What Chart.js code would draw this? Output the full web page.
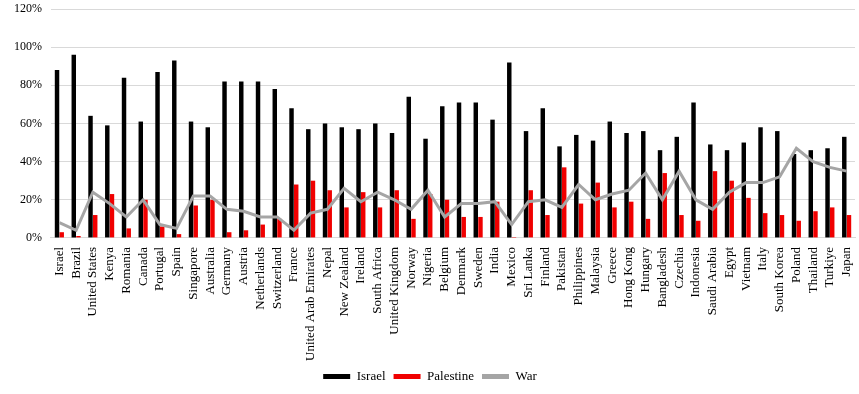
<!DOCTYPE html>
<html>
<head>
<meta charset="utf-8">
<script src="https://cdn.jsdelivr.net/npm/chart.js@4"></script>
<style>
  html, body { margin: 0; padding: 0; background: #fff; }
  #wrap { width: 859px; height: 394px; }
</style>
</head>
<body>
<div id="wrap"><canvas id="chart" width="859" height="394"></canvas></div>
<script>
const countries = ['Israel', 'Brazil', 'United States', 'Kenya', 'Romania', 'Canada', 'Portugal', 'Spain',
  'Singapore', 'Australia', 'Germany', 'Austria', 'Netherlands', 'Switzerland', 'France',
  'United Arab Emirates', 'Nepal', 'New Zealand', 'Ireland', 'South Africa', 'United Kingdom',
  'Norway', 'Nigeria', 'Belgium', 'Denmark', 'Sweden', 'India', 'Mexico', 'Sri Lanka', 'Finland',
  'Pakistan', 'Philippines', 'Malaysia', 'Greece', 'Hong Kong', 'Hungary', 'Bangladesh', 'Czechia',
  'Indonesia', 'Saudi Arabia', 'Egypt', 'Vietnam', 'Italy', 'South Korea', 'Poland', 'Thailand',
  'Turkiye', 'Japan'];
const israel = [88, 96, 64, 59, 84, 61, 87, 93, 61, 58, 82, 82, 82, 78, 68, 57, 60, 58, 57, 60,
  55, 74, 52, 69, 71, 71, 62, 92, 56, 68, 48, 54, 51, 61, 55, 56, 46, 53, 71, 49,
  46, 50, 58, 56, 44, 46, 47, 53];
const palestine = [3, 1, 12, 23, 5, 20, 6, 2, 17, 20, 3, 4, 7, 10, 28, 30, 25, 16, 24, 16,
  25, 10, 23, 20, 11, 11, 19, 0.5, 25, 12, 37, 18, 29, 16, 19, 10, 34, 12, 9, 35,
  30, 21, 13, 12, 9, 14, 16, 12];
const war = [8, 4, 24, 18, 11, 20, 7, 5, 22, 22, 15, 14, 11, 11, 4, 13, 15, 26, 19, 24,
  20, 15, 25, 11, 18, 18, 19, 7, 19, 20, 16, 28, 20, 23, 25, 34, 20, 35, 20, 15,
  24, 29, 29, 32, 47, 40, 37, 35];
const yTicks = [0, 20, 40, 60, 80, 100, 120];

const serif = "'Liberation Serif', 'DejaVu Serif', serif";
Chart.defaults.font.family = serif;
Chart.defaults.font.size = 13;
Chart.defaults.color = '#000';

new Chart(document.getElementById('chart').getContext('2d'), {
  type: 'bar',
  data: {
    labels: countries,
    datasets: [
      { label: 'Israel', data: israel, backgroundColor: '#000000', borderWidth: 0 },
      { label: 'Palestine', data: palestine, backgroundColor: '#f00000', borderWidth: 0 },
      {
        type: 'line', label: 'War', data: war, order: -1,
        borderColor: '#a5a5a5', backgroundColor: '#a5a5a5',
        borderWidth: 3, pointRadius: 0, tension: 0
      }
    ]
  },
  options: {
    responsive: false,
    animation: false,
    datasets: { bar: { categoryPercentage: 0.56, barPercentage: 0.95 } },
    layout: { padding: { top: 9, right: 4, left: 5, bottom: 1 } },
    plugins: {
      tooltip: { enabled: false },
      legend: {
        position: 'bottom',
        labels: {
          boxWidth: 27,
          boxHeight: 5,
          padding: 8,
          font: { size: 13 },
          sort: (a, b) => a.datasetIndex - b.datasetIndex,
          generateLabels: chart => Chart.defaults.plugins.legend.labels.generateLabels(chart)
            .map(item => Object.assign(item, { lineWidth: 0 }))
        }
      }
    },
    scales: {
      x: {
        grid: { display: false },
        border: { color: '#d9d9d9' },
        ticks: { maxRotation: 90, minRotation: 90, autoSkip: false, padding: 1 },
        afterFit: axis => { axis.paddingRight = 0; axis.paddingLeft = 0; }
      },
      y: {
        min: 0,
        max: 120,
        afterBuildTicks: axis => { axis.ticks = yTicks.map(v => ({ value: v })); },
        afterFit: axis => { axis.paddingTop = 0; },
        grid: { color: '#d9d9d9', drawTicks: false },
        border: { display: false },
        ticks: { padding: 9, font: { size: 12 }, callback: v => v + '%' }
      }
    }
  }
});
</script>
</body>
</html>
